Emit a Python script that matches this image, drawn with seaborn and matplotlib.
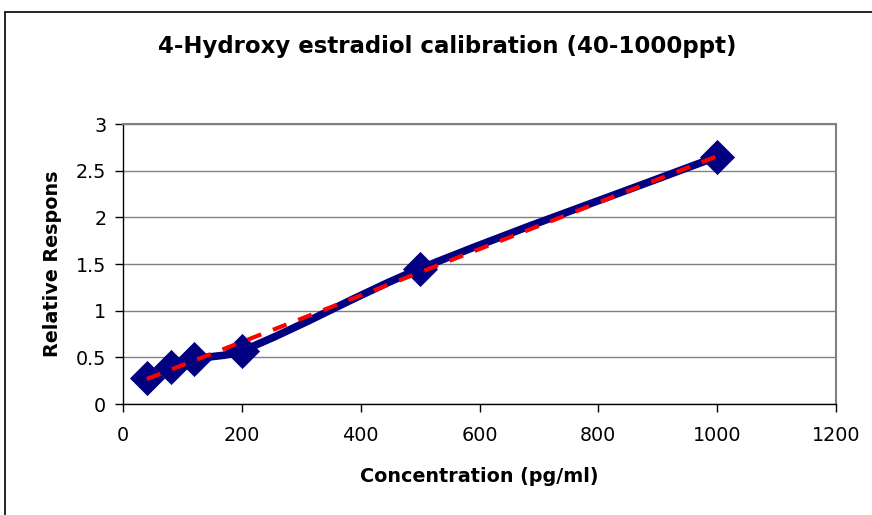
import numpy as np
import pandas as pd
import matplotlib
matplotlib.use("Agg")
import matplotlib.pyplot as plt
from matplotlib.path import Path
from matplotlib.patches import PathPatch
from matplotlib.lines import Line2D
import seaborn as sns

# Calibration standards
concentration = [40, 80, 120, 200, 500, 1000]          # pg/ml
relative_response = [0.28, 0.40, 0.48, 0.57, 1.45, 2.65]

x_ticks = [0, 200, 400, 600, 800, 1000, 1200]
y_ticks = [0, 0.5, 1, 1.5, 2, 2.5, 3]

title = "4-Hydroxy estradiol calibration (40-1000ppt)"
x_label = "Concentration (pg/ml)"
y_label = "Relative Respons"

df = pd.DataFrame({"conc": concentration, "resp": relative_response})

sns.set_theme(style="white")
plt.rcParams["font.family"] = ["DejaVu Sans"]
plt.rcParams.update({"text.color": "black", "axes.labelcolor": "black",
                     "xtick.color": "black", "ytick.color": "black"})

navy = "#000080"
fig = plt.figure(figsize=(8.72, 5.15), dpi=100)
ax = fig.add_axes([123 / 872, 1 - 404 / 515, (836 - 123) / 872, (404 - 124) / 515])
ax.set_xlim(0, 1200)
ax.set_ylim(0, 3)

# Smoothed connecting line: chord-length scaled Catmull-Rom Bezier,
# with chord lengths measured in axes units so both directions weigh alike
pts = df[["conc", "resp"]].to_numpy(dtype=float)
scale = np.array([713 / 1200, 280 / 3])
n = len(pts)
d = np.linalg.norm(np.diff(pts * scale, axis=0), axis=1)


def tangent(i):
    if i == 0:
        return (pts[1] - pts[0]) / d[0]
    if i == n - 1:
        return (pts[-1] - pts[-2]) / d[-1]
    return (pts[i + 1] - pts[i - 1]) / (d[i - 1] + d[i])


verts = [tuple(pts[0])]
codes = [Path.MOVETO]
for i in range(n - 1):
    c1 = pts[i] + tangent(i) * d[i] / 3
    c2 = pts[i + 1] - tangent(i + 1) * d[i] / 3
    verts += [tuple(c1), tuple(c2), tuple(pts[i + 1])]
    codes += [Path.CURVE4] * 3
ax.add_patch(PathPatch(Path(verts, codes), facecolor="none", edgecolor=navy,
                       lw=5.5, capstyle="round", joinstyle="round", zorder=3))

# Data markers
sns.scatterplot(data=df, x="conc", y="resp", marker="D", s=320, color=navy,
                edgecolor=navy, linewidth=0, ax=ax, zorder=4, legend=False)

# Linear trendline
sns.regplot(data=df, x="conc", y="resp", scatter=False, ci=None, truncate=True,
            ax=ax, line_kws=dict(color="#FF0000", lw=3, ls=(0, (3.5, 3)), zorder=5))

ax.set_xlim(0, 1200)
ax.set_ylim(0, 3)
ax.set_xticks(x_ticks)
ax.set_yticks(y_ticks)
ax.set_xticklabels([str(v) for v in x_ticks])
ax.set_yticklabels([f"{v:g}" for v in y_ticks])
ax.set_xlabel(x_label, fontsize=13.8, fontweight="bold", labelpad=16)
ax.set_ylabel(y_label, fontsize=13.8, fontweight="bold", labelpad=10)
ax.tick_params(axis="both", labelsize=13.8, length=6, width=1,
               direction="out", bottom=True, left=True)
ax.tick_params(axis="x", pad=10)
ax.tick_params(axis="y", pad=6)

ax.yaxis.grid(True, color="#808080", lw=1)
ax.xaxis.grid(False)
ax.set_axisbelow(True)
for side in ["left", "bottom"]:
    ax.spines[side].set_color("black")
    ax.spines[side].set_linewidth(1)
for side in ["top", "right"]:
    ax.spines[side].set_color("#808080")
    ax.spines[side].set_linewidth(1.5)

fig.text(447 / 872, 1 - 47 / 515, title, ha="center", va="center",
         fontsize=16.5, fontweight="bold")

# Chart-area frame
fig.add_artist(Line2D([5 / 872, 1.0], [1 - 12 / 515, 1 - 12 / 515],
                      transform=fig.transFigure, color="black", lw=1.2))
fig.add_artist(Line2D([5 / 872, 5 / 872], [0.0, 1 - 12 / 515],
                      transform=fig.transFigure, color="black", lw=1.2))

fig.savefig("out.png", dpi=100, facecolor="white")
